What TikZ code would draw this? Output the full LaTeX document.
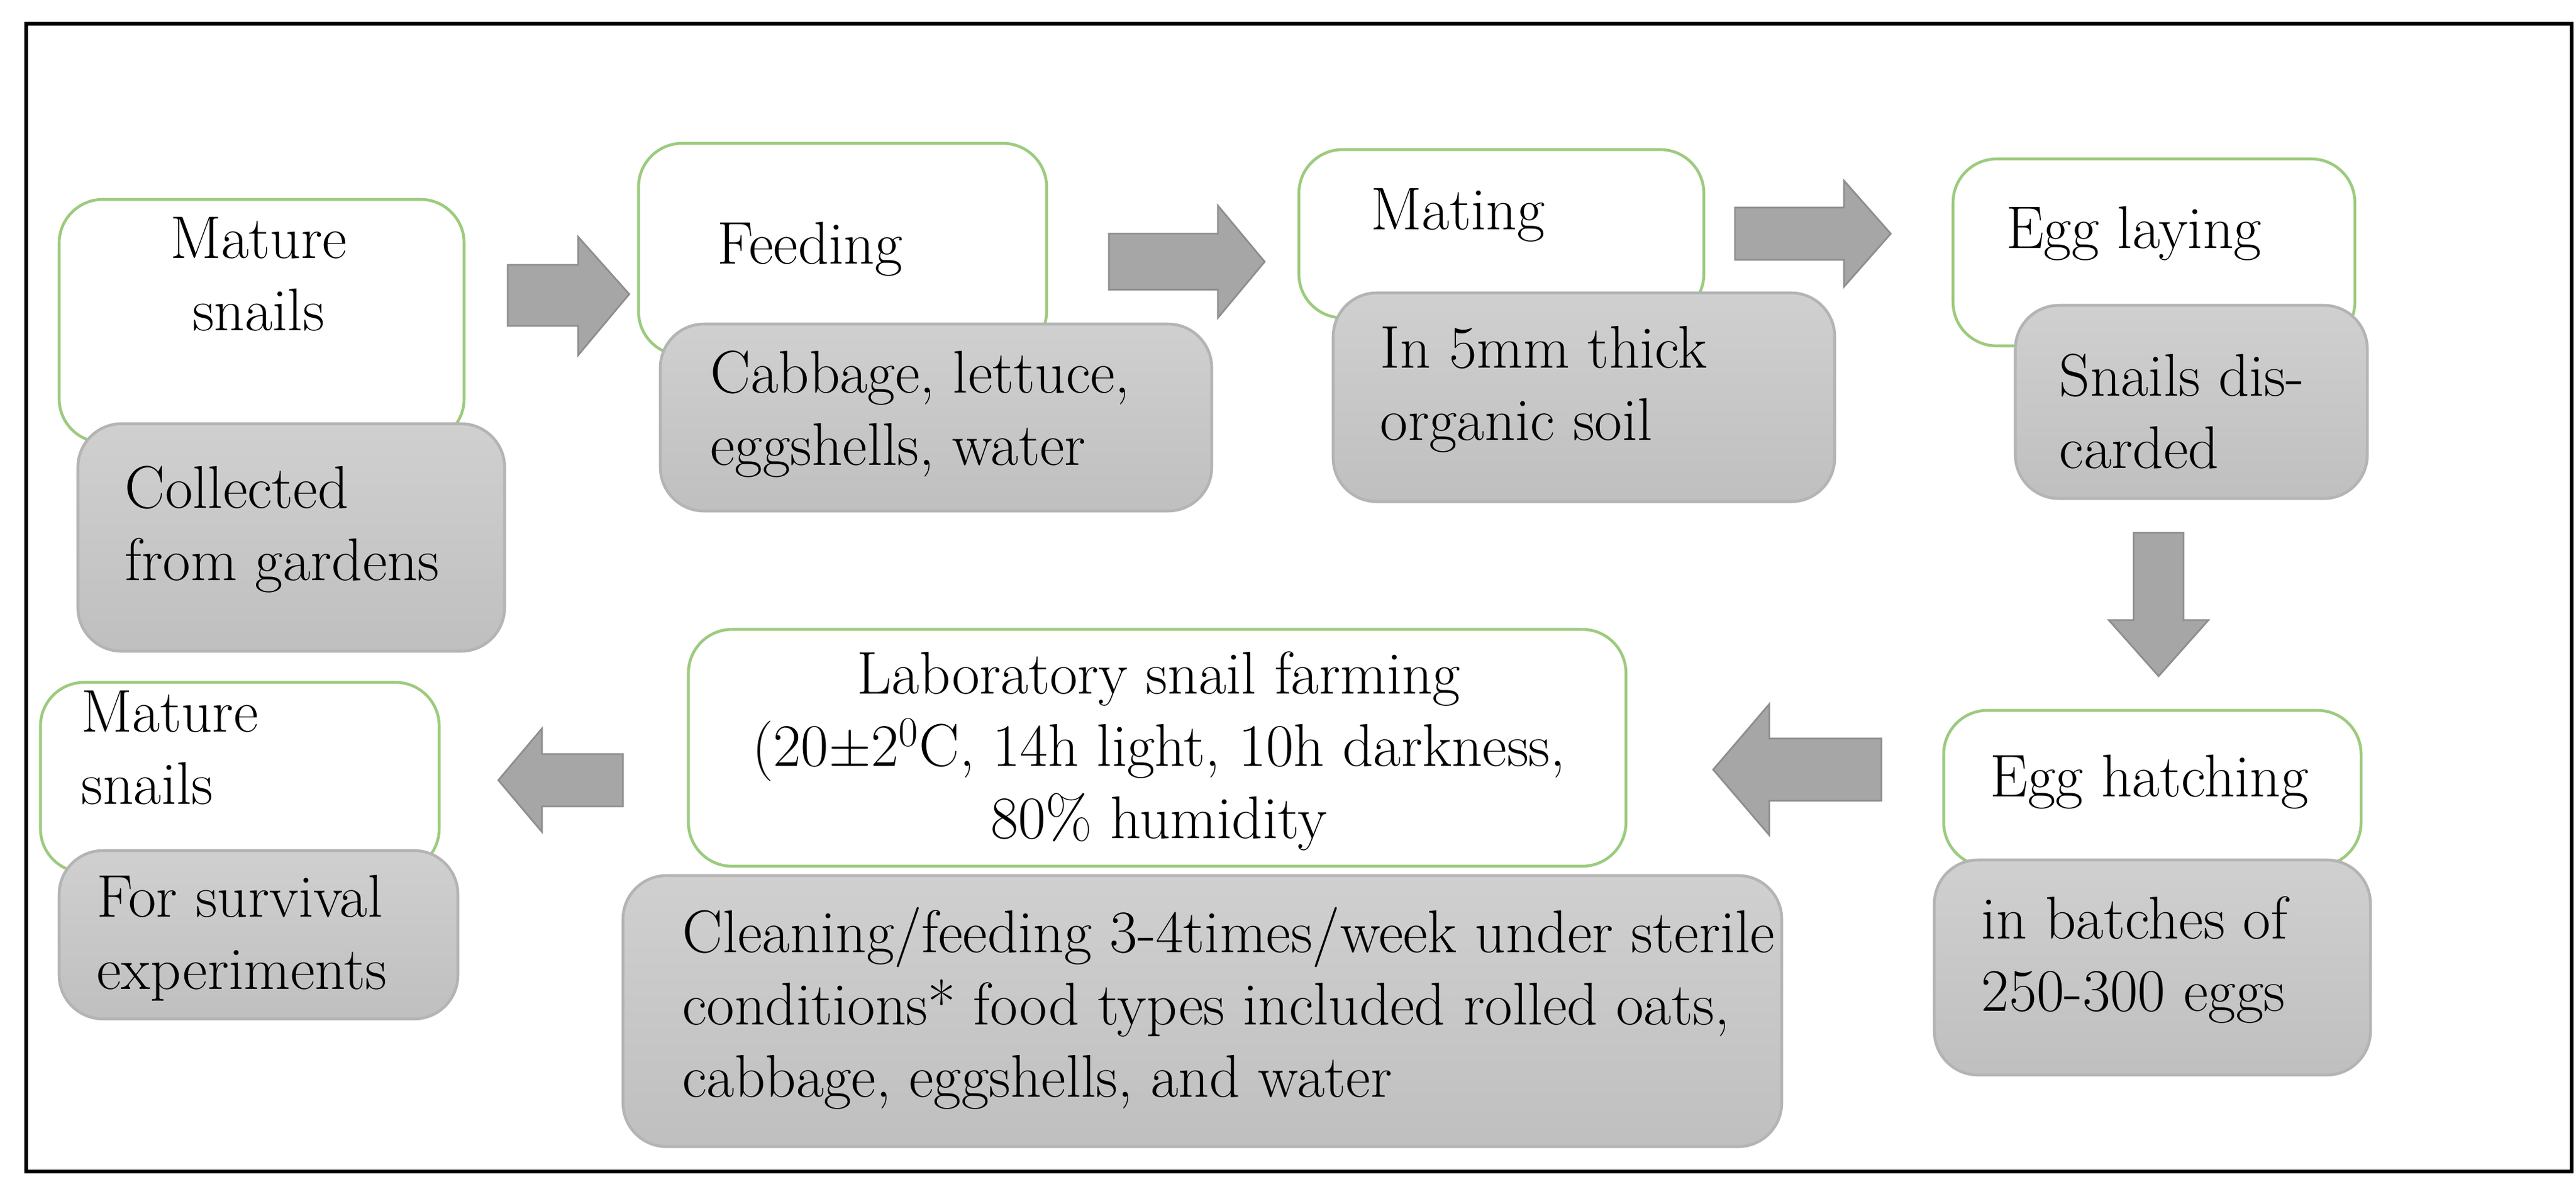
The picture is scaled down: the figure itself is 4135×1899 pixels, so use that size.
\documentclass[tikz,border=0pt]{standalone}
\definecolor{grn}{HTML}{9CCB7E}
\definecolor{gbd}{HTML}{B4B4B4}
\definecolor{arr}{HTML}{A6A6A6}
\definecolor{arrd}{HTML}{8E8E8E}
\begin{document}
\begin{tikzpicture}[x=0.01cm,y=-0.01cm,
  wbox/.style={draw=grn,line width=1.3pt,fill=white,rounded corners=0.7cm},
  gbox/.style={draw=gbd,line width=1.3pt,top color=gray!37,bottom color=gray!50,rounded corners=0.7cm},
  txt/.style={font=\fontsize{27.5}{33}\selectfont,inner sep=0pt},
  ctxt/.style={txt,align=center},
  ltxt/.style={txt,align=left,anchor=west},
  arrst/.style={fill=arr,draw=arrd,line width=0.8pt,line join=miter}
]
\useasboundingbox (0,0) rectangle (4135,1899);
\fill[white] (0,0) rectangle (4135,1899);
\draw[line width=1.5pt] (42,38) rectangle (4128,1880);
% boxes
\draw[wbox] (95,320) rectangle (745,710);
\draw[gbox] (125,680) rectangle (810,1045);
\draw[wbox] (1025,230) rectangle (1680,570);
\draw[gbox] (1060,520) rectangle (1945,820);
\draw[wbox] (2085,240) rectangle (2735,510);
\draw[gbox] (2140,470) rectangle (2945,805);
\draw[wbox] (3135,255) rectangle (3780,555);
\draw[gbox] (3235,490) rectangle (3800,800);
\draw[wbox] (3120,1140) rectangle (3790,1390);
\draw[gbox] (3105,1380) rectangle (3805,1725);
\draw[wbox] (1105,1010) rectangle (2610,1390);
\draw[gbox] (1000,1405) rectangle (2860,1840);
\draw[wbox] (65,1095) rectangle (705,1400);
\draw[gbox] (95,1365) rectangle (735,1635);
% texts
\node[ctxt] (t1) at (415,440) {Mature\\snails};
\node[ltxt] (g1) at (200,850) {Collected\\from gardens};
\node[ctxt] (t2) at (1300,400) {Feeding};
\node[ltxt] (g2) at (1140,665) {Cabbage, lettuce,\\eggshells, water};
\node[ctxt] (t3) at (2340,345) {Mating};
\node[ltxt] (g3) at (2215,625) {In 5mm thick\\organic soil};
\node[ctxt] (t4) at (3425,375) {Egg laying};
\node[ltxt] (g4) at (3305,660) {Snails dis-\\carded};
\node[ctxt] (t5) at (3450,1255) {Egg hatching};
\node[ltxt] (g5) at (3180,1540) {in batches of\\250-300 eggs};
\node[ctxt] (t6) at (1860,1205) {Laboratory snail farming\\(20$\pm$2\textsuperscript{0}C, 14h light, 10h darkness,\\80\% humidity};
\node[ltxt] (g6) at (1095,1618) {Cleaning/feeding 3-4times/week under sterile\\conditions* food types included rolled oats,\\cabbage, eggshells, and water};
\node[ltxt] (t7) at (130,1200) {Mature\\snails};
\node[ltxt] (g7) at (155,1505) {For survival\\experiments};
% block arrows
\draw[arrst] (815,425) -- (928,425) -- (928,380) -- (1010,472) -- (928,570) -- (928,523) -- (815,523) -- cycle;
\draw[arrst] (1780,375) -- (1955,375) -- (1955,330) -- (2030,420) -- (1955,510) -- (1955,465) -- (1780,465) -- cycle;
\draw[arrst] (2785,333) -- (2960,333) -- (2960,290) -- (3035,375) -- (2960,460) -- (2960,417) -- (2785,417) -- cycle;
\draw[arrst] (3425,855) -- (3505,855) -- (3505,995) -- (3545,995) -- (3465,1085) -- (3385,995) -- (3425,995) -- cycle;
\draw[arrst] (3020,1185) -- (2840,1185) -- (2840,1130) -- (2750,1235) -- (2840,1340) -- (2840,1285) -- (3020,1285) -- cycle;
\draw[arrst] (1000,1210) -- (870,1210) -- (870,1169) -- (800,1252) -- (870,1335) -- (870,1294) -- (1000,1294) -- cycle;
\end{tikzpicture}
\end{document}
